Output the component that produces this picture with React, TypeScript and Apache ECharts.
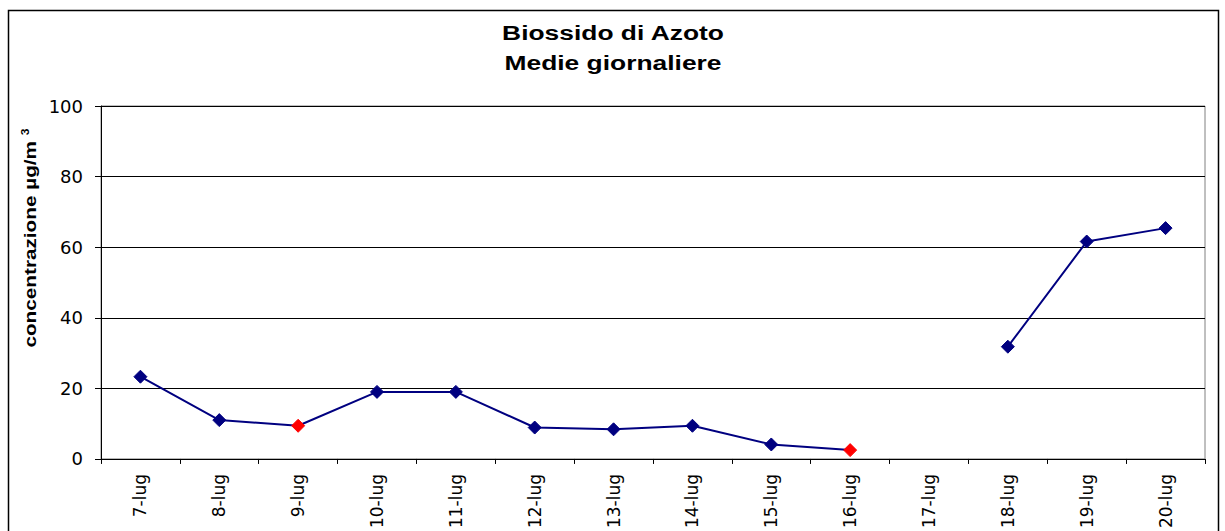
import React, { useEffect, useRef } from "react";
import * as echarts from "echarts";

const categories = ["7-lug", "8-lug", "9-lug", "10-lug", "11-lug", "12-lug", "13-lug", "14-lug", "15-lug", "16-lug", "17-lug", "18-lug", "19-lug", "20-lug"];
const values: (number | null)[] = [23.3, 11.0, 9.4, 19.0, 19.0, 8.9, 8.4, 9.4, 4.1, 2.5, null, 31.8, 61.6, 65.4];
const flagged = ["9-lug", "16-lug"];
const yTicks = [0, 20, 40, 60, 80, 100];

const FONT = "'Liberation Sans', Arial, sans-serif";
const WIDE = "'DejaVu Sans', sans-serif";

export default function App() {
  const ref = useRef<HTMLDivElement>(null);
  useEffect(() => {
    if (!ref.current) return;
    const chart = echarts.init(ref.current, undefined, { renderer: "svg" });
    const data = categories.map((c, i) => {
      const v = values[i];
      if (v === null) return null;
      const red = flagged.includes(c);
      return {
        value: v,
        itemStyle: { color: red ? "#ff0000" : "#000080", borderColor: red ? "#ff0000" : "#000080" },
      };
    });
    chart.setOption({
      animation: false,
      backgroundColor: "#ffffff",
      textStyle: { fontFamily: FONT },
      grid: {
        left: 101,
        right: 20,
        top: 106,
        bottom: 72,
        show: true,
        borderColor: "#808080",
        borderWidth: 1,
        backgroundColor: "transparent",
      },
      graphic: [
        {
          type: "rect",
          shape: { x: 8.5, y: 10.5, width: 1210, height: 600 },
          style: { fill: "none", stroke: "#000", lineWidth: 1.5 },
          silent: true,
        },
        {
          type: "text",
          x: 613,
          y: 33,
          scaleX: 1.32,
          style: {
            text: "Biossido di Azoto",
            fontFamily: FONT,
            fontSize: 20,
            fontWeight: "bold",
            fill: "#000",
            align: "center",
            verticalAlign: "middle",
          },
        },
        {
          type: "text",
          x: 613,
          y: 63,
          scaleX: 1.32,
          style: {
            text: "Medie giornaliere",
            fontFamily: FONT,
            fontSize: 20,
            fontWeight: "bold",
            fill: "#000",
            align: "center",
            verticalAlign: "middle",
          },
        },
        {
          type: "text",
          x: 30,
          y: 238,
          rotation: Math.PI / 2,
          scaleX: 1.22,
          style: {
            text: "{a|concentrazione µg/m }{b|3}",
            align: "center",
            verticalAlign: "middle",
            rich: {
              a: { fontFamily: FONT, fontSize: 17, fontWeight: "bold", fill: "#000" },
              b: { fontFamily: FONT, fontSize: 10, fontWeight: "bold", fill: "#000", verticalAlign: "top", padding: [0, 0, 9, 0] },
            },
          },
        },
      ],
      xAxis: {
        type: "category",
        data: categories,
        boundaryGap: true,
        axisLine: { show: true, lineStyle: { color: "#000", width: 1 } },
        axisTick: { show: true, length: 5, alignWithLabel: false, lineStyle: { color: "#000" } },
        axisLabel: {
          rotate: 90,
          margin: 15,
          fontSize: 17,
          fontFamily: WIDE,
          color: "#000",
          interval: 0,
        },
        splitLine: { show: false },
      },
      yAxis: {
        type: "value",
        min: 0,
        max: 100,
        interval: 20,
        axisLine: { show: true, lineStyle: { color: "#000", width: 1 } },
        axisTick: { show: true, length: 6, lineStyle: { color: "#000" } },
        axisLabel: {
          margin: 18,
          fontSize: 18,
          fontFamily: WIDE,
          color: "#000",
          formatter: (v: number) => (yTicks.includes(v) ? String(v) : ""),
        },
        splitLine: { show: true, lineStyle: { color: "#000", width: 1 } },
      },
      series: [
        {
          type: "line",
          data,
          connectNulls: false,
          symbol: "diamond",
          symbolSize: 13,
          lineStyle: { color: "#000080", width: 2 },
          itemStyle: { color: "#000080" },
          z: 5,
        },
      ],
    });
    return () => chart.dispose();
  }, []);
  return <div ref={ref} style={{ position: "fixed", left: 0, top: 0, width: 1225, height: 531 }} />;
}
